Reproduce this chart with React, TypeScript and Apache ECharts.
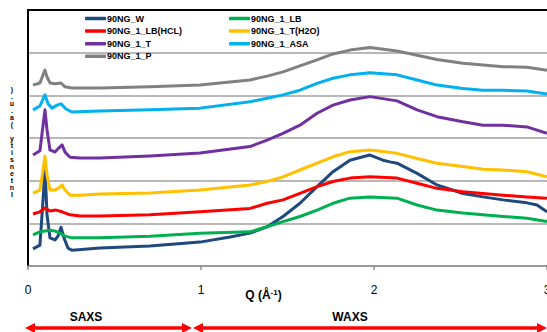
import React, { useEffect, useRef } from "react";
import * as echarts from "echarts";

const seriesNames = [
  "90NG_W",
  "90NG_1_LB",
  "90NG_1_LB(HCL)",
  "90NG_1_T(H2O)",
  "90NG_1_T",
  "90NG_1_ASA",
  "90NG_1_P",
];
const seriesColors = ["#1F497D", "#00B050", "#FF0000", "#FFC000", "#7030A0", "#00B0F0", "#808080"];

const xTicks = [0, 1, 2, 3];

// Shared Q positions for the broad (WAXS) part
const qBroad = [1.283, 1.382, 1.474, 1.572, 1.671, 1.763, 1.861, 1.977, 2.133, 2.249, 2.364, 2.514, 2.630, 2.746, 2.884, 3.0];

// 90NG_W
const qW = [0.029, 0.069, 0.087, 0.098, 0.110, 0.127, 0.156, 0.173, 0.191, 0.208, 0.231, 0.254, 0.416, 0.705, 0.994, 1.168,
  1.283, 1.382, 1.474, 1.572, 1.671, 1.763, 1.861, 1.936, 1.977, 2.052, 2.092, 2.133, 2.249, 2.364, 2.514, 2.630, 2.746, 2.884, 2.942, 3.0];
const iW = [0.40, 0.49, 1.55, 2.30, 1.20, 0.66, 0.61, 0.70, 0.91, 0.66, 0.42, 0.37, 0.42, 0.47, 0.56, 0.68,
  0.77, 0.92, 1.16, 1.47, 1.86, 2.21, 2.48, 2.56, 2.60, 2.48, 2.44, 2.41, 2.17, 1.90, 1.70, 1.62, 1.55, 1.48, 1.43, 1.27];

// low-Q part positions / values for the other series
const qLowLB = [0.029, 0.069, 0.098, 0.127, 0.156, 0.185, 0.214, 0.254, 0.416, 0.705, 0.994];
const iLowLB = [0.73, 0.80, 0.82, 0.84, 0.82, 0.77, 0.70, 0.66, 0.66, 0.70, 0.77];
const iBroadLB = [0.80, 0.92, 1.04, 1.16, 1.31, 1.47, 1.59, 1.62, 1.59, 1.43, 1.31, 1.24, 1.20, 1.16, 1.12, 1.04];

const qLowHCL = [0.029, 0.069, 0.098, 0.127, 0.162, 0.197, 0.243, 0.301, 0.416, 0.705, 0.994];
const iLowHCL = [1.22, 1.27, 1.36, 1.29, 1.31, 1.27, 1.20, 1.17, 1.17, 1.20, 1.27];
const iBroadHCL = [1.35, 1.47, 1.55, 1.70, 1.86, 1.98, 2.06, 2.09, 2.06, 1.94, 1.82, 1.74, 1.70, 1.66, 1.62, 1.59];

const qLowSpike = [0.029, 0.069, 0.087, 0.098, 0.110, 0.127, 0.156, 0.179, 0.197, 0.214, 0.243, 0.301, 0.416, 0.705, 0.994];
const iLowTH2O = [1.71, 1.78, 2.25, 2.58, 2.13, 1.78, 1.78, 1.83, 1.90, 1.78, 1.66, 1.66, 1.69, 1.71, 1.78];
const iBroadTH2O = [1.90, 1.98, 2.09, 2.25, 2.41, 2.56, 2.68, 2.72, 2.64, 2.52, 2.41, 2.33, 2.27, 2.25, 2.21, 2.09];

const iLowT = [2.60, 2.70, 3.30, 3.66, 3.19, 2.72, 2.67, 2.77, 2.84, 2.67, 2.55, 2.53, 2.53, 2.58, 2.65];
const iBroadT = [2.80, 2.95, 3.11, 3.30, 3.58, 3.77, 3.89, 3.97, 3.87, 3.66, 3.50, 3.38, 3.30, 3.30, 3.26, 3.11];

const qLowASA = [0.029, 0.069, 0.098, 0.116, 0.139, 0.168, 0.191, 0.220, 0.254, 0.416, 0.705, 0.994];
const iLowASA = [3.66, 3.75, 4.01, 3.80, 3.70, 3.77, 3.80, 3.68, 3.61, 3.63, 3.66, 3.70];
const iBroadASA = [3.85, 3.93, 4.01, 4.12, 4.28, 4.40, 4.48, 4.53, 4.48, 4.36, 4.24, 4.16, 4.12, 4.12, 4.10, 4.03];

const qLowP = [0.029, 0.069, 0.087, 0.098, 0.110, 0.127, 0.156, 0.191, 0.214, 0.254, 0.416, 0.705, 0.994];
const iLowP = [4.24, 4.29, 4.48, 4.59, 4.43, 4.29, 4.27, 4.29, 4.20, 4.17, 4.17, 4.20, 4.24];
const iBroadP = [4.36, 4.45, 4.55, 4.69, 4.83, 4.97, 5.06, 5.12, 5.04, 4.94, 4.84, 4.75, 4.71, 4.67, 4.66, 4.59];

const zip = (q: number[], v: number[]) => q.map((x, i) => [x, v[i]]);

const seriesData = [
  zip(qW, iW),
  zip([...qLowLB, ...qBroad], [...iLowLB, ...iBroadLB]),
  zip([...qLowHCL, ...qBroad], [...iLowHCL, ...iBroadHCL]),
  zip([...qLowSpike, ...qBroad], [...iLowTH2O, ...iBroadTH2O]),
  zip([...qLowSpike, ...qBroad], [...iLowT, ...iBroadT]),
  zip([...qLowASA, ...qBroad], [...iLowASA, ...iBroadASA]),
  zip([...qLowP, ...qBroad], [...iLowP, ...iBroadP]),
];

const yLabelText = "Intensity (a.u.)";
const regionLabels = ["SAXS", "WAXS"];

export default function App() {
  const ref = useRef<HTMLDivElement>(null);
  useEffect(() => {
    if (!ref.current) return;
    const chart = echarts.init(ref.current, null, { renderer: "svg" });
    const font = "'Liberation Sans', Arial, sans-serif";
    const legendText = {
      fontSize: 9,
      fontWeight: "bold" as const,
      fontFamily: font,
      color: "#000",
      lineHeight: 11,
      padding: [0, 0, 0, -4],
    };
    const red = "#FF0000";
    const arrowY = 328;
    const arrow = (x1: number, x2: number) => [
      { type: "line", z: 100, shape: { x1: x1 + 8, y1: arrowY, x2: x2 - 8, y2: arrowY }, style: { stroke: red, lineWidth: 3.5 } },
      { type: "polygon", z: 100, shape: { points: [[x1, arrowY], [x1 + 10, arrowY - 5], [x1 + 10, arrowY + 5]] }, style: { fill: red } },
      { type: "polygon", z: 100, shape: { points: [[x2, arrowY], [x2 - 10, arrowY - 5], [x2 - 10, arrowY + 5]] }, style: { fill: red } },
    ];
    chart.setOption({
      animation: false,
      backgroundColor: "#fff",
      grid: { left: 28, right: 0, top: 10, bottom: 66, containLabel: false, outerBoundsMode: "none" },
      legend: [
        {
          orient: "vertical",
          left: 85,
          top: 13,
          padding: 0,
          icon: "roundRect",
          itemWidth: 21,
          itemHeight: 3.5,
          itemGap: 1.6,
          textStyle: legendText,
          data: [seriesNames[0], seriesNames[2], seriesNames[4], seriesNames[6]],
        },
        {
          orient: "vertical",
          left: 229,
          top: 13,
          padding: 0,
          icon: "roundRect",
          itemWidth: 21,
          itemHeight: 3.5,
          itemGap: 1.6,
          textStyle: legendText,
          data: [seriesNames[1], seriesNames[3], seriesNames[5]],
        },
      ],
      xAxis: {
        type: "value",
        min: xTicks[0],
        max: xTicks[xTicks.length - 1],
        interval: 1,
        axisLine: { show: true, lineStyle: { color: "#8c8c8c", width: 1.5 } },
        axisTick: { show: true, length: 4, lineStyle: { color: "#8c8c8c", width: 1.5 } },
        axisLabel: { margin: 18, color: "#000", fontSize: 12, fontFamily: font },
        splitLine: { show: false },
        name: "Q (Å{sup|-1})",
        nameLocation: "middle",
        nameGap: 22,
        nameMoveOverlap: false,
        nameTextStyle: {
          fontSize: 12,
          fontWeight: "bold",
          fontFamily: font,
          color: "#000",
          padding: [0, 48, 0, 0],
          rich: {
            sup: { fontSize: 8, fontWeight: "bold", fontFamily: font, color: "#000", verticalAlign: "top", padding: [0, 0, 5, 0] },
          },
        },
      },
      yAxis: {
        type: "value",
        min: 0,
        max: 6,
        interval: 1,
        axisLine: { show: true, onZero: false, lineStyle: { color: "#000", width: 2 } },
        axisTick: { show: false },
        axisLabel: { show: false },
        splitLine: { show: true, lineStyle: { color: "#a0a0a0", width: 1.5 } },
      },
      series: seriesNames.map((name, i) => ({
        name,
        type: "line",
        data: seriesData[i],
        showSymbol: false,
        symbol: "none",
        color: seriesColors[i],
        lineStyle: { color: seriesColors[i], width: 3, join: "round" },
        z: 2 + i,
      })),
      graphic: [
        { type: "line", z: 100, shape: { x1: 27, y1: 10, x2: 547, y2: 10 }, style: { stroke: "#000", lineWidth: 2 } },
        {
          type: "text",
          z: 100,
          x: 12,
          y: 86,
          style: {
            text: yLabelText.split("").reverse().join("\n"),
            fontSize: 7,
            lineHeight: 7,
            fontWeight: "bold",
            fontFamily: font,
            fill: "#000",
            align: "center",
            verticalAlign: "top",
          },
        },
        {
          type: "text",
          z: 100,
          x: 86,
          y: 317,
          style: { text: regionLabels[0], fontSize: 12, fontWeight: "bold", fontFamily: font, fill: "#000", align: "center", verticalAlign: "middle" },
        },
        {
          type: "text",
          z: 100,
          x: 350,
          y: 317,
          style: { text: regionLabels[1], fontSize: 12, fontWeight: "bold", fontFamily: font, fill: "#000", align: "center", verticalAlign: "middle" },
        },
        ...arrow(25, 192),
        ...arrow(193, 547),
      ],
    });
    return () => chart.dispose();
  }, []);
  return <div ref={ref} style={{ position: "fixed", left: 0, top: 0, width: 547, height: 332 }} />;
}
